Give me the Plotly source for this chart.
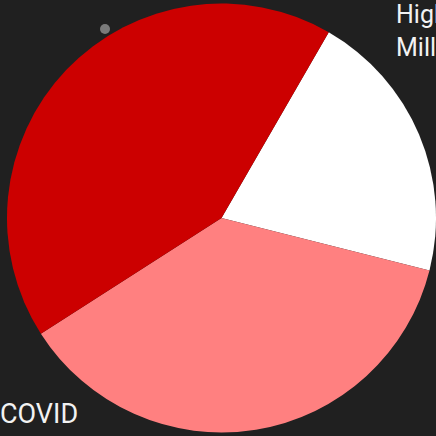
import plotly.graph_objects as go

categories = ["Higher Millennials", "Other", "COVID"]
values = [20.6, 37.0, 42.4]
colors = ["#ffffff", "#ff8080", "#cc0000"]

fig = go.Figure(go.Pie(
    labels=categories,
    values=values,
    sort=False,
    direction="clockwise",
    rotation=30,
    marker=dict(colors=colors, line=dict(width=0)),
    textinfo="none",
    hoverinfo="label+percent",
    showlegend=False,
    domain=dict(x=[7/436, 436/436], y=[3/436, 433/436]),
))

fig.add_annotation(x=394/436, y=1+2/436, xref="paper", yref="paper",
                   xanchor="left", yanchor="top", align="left", showarrow=False,
                   text="Higher<br>Millennials",
                   font=dict(family="Roboto", size=25, color="#f2f2f2"))
fig.add_annotation(x=-2/436, y=1-396/436, xref="paper", yref="paper",
                   xanchor="left", yanchor="top", align="left", showarrow=False,
                   text="COVID",
                   font=dict(family="Roboto", size=27, color="#f2f2f2"))

fig.add_shape(type="circle", xref="paper", yref="paper",
              x0=100/436, x1=110/436, y0=1-34/436, y1=1-24/436,
              fillcolor="#7a7a7a", line=dict(width=0))

fig.update_layout(
    width=436, height=436,
    margin=dict(l=0, r=0, t=0, b=0),
    paper_bgcolor="#202020",
    plot_bgcolor="#202020",
)

fig.write_html("out.html")
